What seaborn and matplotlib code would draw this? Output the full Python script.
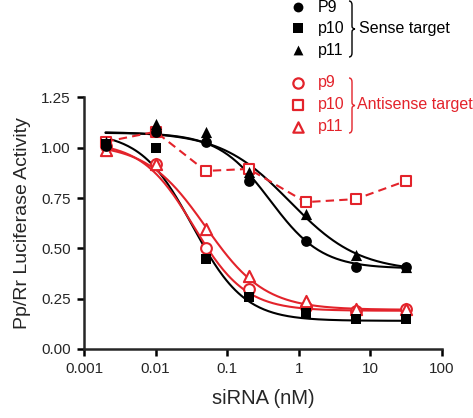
import numpy as np
import pandas as pd
import matplotlib
matplotlib.use('Agg')
import matplotlib.pyplot as plt
from matplotlib.path import Path
from matplotlib.patches import PathPatch
import seaborn as sns

sns.set_style('ticks')
plt.rcParams['font.family'] = ['Liberation Sans', 'DejaVu Sans']

RED = '#e3232b'

# siRNA concentrations (nM)
conc = [0.002, 0.01, 0.05, 0.2, 1.25, 6.25, 31.25]

# Sense target (filled markers)
sense_p9 = [1.01, 1.08, 1.03, 0.835, 0.537, 0.406, 0.41]
sense_p10 = [1.02, 1.00, 0.446, 0.257, 0.177, 0.148, 0.148]
sense_p11 = [1.03, 1.12, 1.08, 0.88, 0.67, 0.465, 0.41]

# Antisense target (open markers)
anti_p9 = [1.01, 0.92, 0.50, 0.30, 0.21, 0.19, 0.20]
anti_p10 = [1.03, 1.08, 0.885, 0.895, 0.73, 0.745, 0.835]
anti_p11 = [0.99, 0.92, 0.595, 0.363, 0.24, 0.20, 0.20]

# 4-parameter logistic fits: top, bottom, EC50 (nM), hill
fit_sense_p9 = [1.075, 0.40, 0.40, 1.2]
fit_sense_p10 = [1.08, 0.14, 0.033, 1.2]
fit_sense_p11 = [1.08, 0.385, 0.75, 0.9]
fit_anti_p9 = [1.03, 0.19, 0.034, 1.2]
fit_anti_p11 = [1.02, 0.195, 0.05, 1.05]


def four_pl(x, top, bottom, ec50, hill):
    return bottom + (top - bottom) / (1 + (x / ec50) ** hill)


fig = plt.figure(figsize=(4.73, 4.18), dpi=100)
ax = fig.add_axes([84 / 473, 69 / 418, 358 / 473, 251.5 / 418])

xs = np.geomspace(conc[0], conc[-1], 200)
for params, col in [(fit_sense_p9, 'black'), (fit_sense_p11, 'black'),
                    (fit_sense_p10, 'black'), (fit_anti_p9, RED), (fit_anti_p11, RED)]:
    sns.lineplot(x=xs, y=four_pl(xs, *params), color=col, lw=1.5, ax=ax)

# antisense p10 is joined by a dashed line, not fitted
sns.lineplot(x=conc, y=anti_p10, color=RED, lw=1.5, ax=ax)
ax.lines[-1].set_linestyle((0, (4, 2.5)))

sns.scatterplot(x=conc, y=anti_p10, marker='s', s=55, color='white', edgecolor=RED, linewidth=1.5, ax=ax, zorder=3)
sns.scatterplot(x=conc, y=anti_p9, marker='o', s=60, color='white', edgecolor=RED, linewidth=1.5, ax=ax, zorder=3)
sns.scatterplot(x=conc, y=anti_p11, marker='^', s=65, color='white', edgecolor=RED, linewidth=1.5, ax=ax, zorder=3)
sns.scatterplot(x=conc, y=sense_p9, marker='o', s=60, color='black', linewidth=0, ax=ax, zorder=4)
sns.scatterplot(x=conc, y=sense_p10, marker='s', s=50, color='black', linewidth=0, ax=ax, zorder=4)
sns.scatterplot(x=conc, y=sense_p11, marker='^', s=65, color='black', linewidth=0, ax=ax, zorder=4)

ax.set_xscale('log')
ax.set_xlim(0.001, 100)
ax.set_ylim(0, 1.25)
xticks = [0.001, 0.01, 0.1, 1, 10, 100]
ax.set_xticks(xticks)
ax.set_xticklabels(['0.001', '0.01', '0.1', '1', '10', '100'])
ax.xaxis.set_minor_locator(matplotlib.ticker.NullLocator())
yticks = [0, 0.25, 0.5, 0.75, 1.0, 1.25]
ax.set_yticks(yticks)
ax.set_yticklabels([f'{v:.2f}' for v in yticks])
ax.tick_params(labelsize=11, length=5, width=1.8, pad=4.5, color='black')
for s in ['left', 'bottom']:
    ax.spines[s].set_linewidth(1.8)
sns.despine(ax=ax)
ax.set_xlabel('siRNA (nM)', fontsize=14.5, labelpad=9)
ax.set_ylabel('Pp/Rr Luciferase Activity', fontsize=14, labelpad=7)

# legend drawn in figure pixel coordinates
lg = fig.add_axes([0, 0, 1, 1], facecolor='none')
lg.set_xlim(0, 473)
lg.set_ylim(418, 0)
lg.axis('off')

entries = [('P9', 'o', 7, 'black', True), ('p10', 's', 28, 'black', True), ('p11', '^', 50, 'black', True),
           ('p9', 'o', 83, RED, False), ('p10', 's', 105, RED, False), ('p11', '^', 127, RED, False)]
for lab, mk, y, col, filled in entries:
    if filled:
        lg.scatter([298], [y], marker=mk, s=50, color=col, linewidth=0)
    else:
        lg.scatter([298], [y], marker=mk, s=55, facecolor='white', edgecolor=col, linewidth=1.6)
    lg.text(318, y, lab, fontsize=11.5, color=col, va='center', ha='left')


def brace(x, y0, y1, col):
    ym = (y0 + y1) / 2
    verts = [(x, y0), (x + 3, y0), (x + 3, y0 + 4), (x + 3, ym - 3), (x + 3, ym), (x + 6, ym),
             (x + 3, ym), (x + 3, ym + 3), (x + 3, y1 - 4), (x + 3, y1), (x, y1)]
    codes = [Path.MOVETO, Path.CURVE3, Path.CURVE3, Path.LINETO, Path.CURVE3, Path.CURVE3,
             Path.CURVE3, Path.CURVE3, Path.LINETO, Path.CURVE3, Path.CURVE3]
    lg.add_patch(PathPatch(Path(verts, codes), fill=False, edgecolor=col, lw=1.0))


brace(349, 1, 57, 'black')
brace(349, 78, 133, RED)
lg.text(359, 28, 'Sense target', fontsize=11.5, color='black', va='center', ha='left')
lg.text(357, 105, 'Antisense target', fontsize=11.5, color=RED, va='center', ha='left')

fig.savefig('out.png', dpi=100)
